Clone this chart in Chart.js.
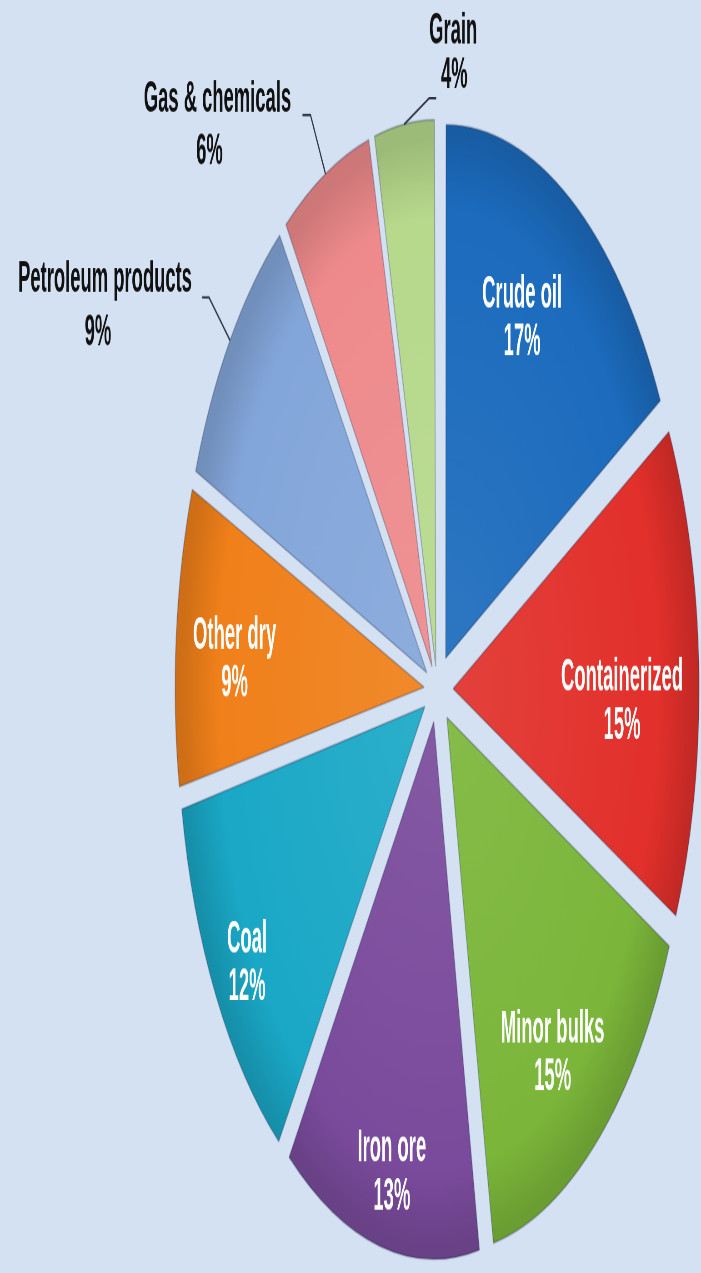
<!DOCTYPE html>
<html>
<head>
<meta charset="utf-8">
<script src="https://cdn.jsdelivr.net/npm/chart.js@4.4.1/dist/chart.umd.min.js"></script>
<style>
  html { background: #d4e1f3; }
  body { margin: 0; padding: 0; width: 701px; height: 1273px; }
  #wrap { width: 701px; height: 585px; transform-origin: 0 0; }
</style>
</head>
<body>
<div id="wrap"><canvas id="cargo-chart" width="701" height="585"></canvas></div>
<script>
// seaborne trade by cargo type, share of tonnage
const categories = ['Crude oil', 'Containerized', 'Minor bulks', 'Iron ore', 'Coal', 'Other dry', 'Petroleum products', 'Gas & chemicals', 'Grain'];
const shares = [17, 15, 15, 13, 12, 9, 9, 6, 4];
const sliceColors = ['#1c6bbd', '#e2302b', '#7bb63a', '#7a4b9c', '#1aa8c6', '#f0801a', '#83a6da', '#ee8a8c', '#b6d98c'];

// the pie is drawn round, then the whole canvas is stretched vertically
const STRETCH = 1273 / 585;
const RADIUS = 243;
const OFFSET = 19;

document.getElementById('wrap').style.transform = 'scaleY(' + STRETCH + ')';

// inside labels: [angle nudge in degrees, distance from the pie centre]
const insidePos = [[-4.3, 192], [3.1, 185], [2.9, 202], [-1, 225], [-0.8, 227], [-1.1, 203]];

// leader lines and text for the thin slices (screen px, relative to where the line leaves the slice)
const outsideLabels = {
    6: { elbow: [-21, -43], end: [-28, -43], name: [-125, -61], pct: [-132, -7] },
    7: { elbow: [-15, -59], end: [-23, -59], name: [-108, -74], pct: [-116, -22] },
    8: { elbow: [25, -26], end: [32, -26], name: [49, -93], pct: [50, -48] }
};

const total = shares.reduce((a, b) => a + b, 0);

// ArcElement moves a slice by offset/4 * (2 - sin(angle)); undo that so every slice moves OFFSET px
const arcOffset = (i) => {
    const circ = shares[i] / total * Math.PI * 2;
    const fix = 1 - Math.sin(Math.min(Math.PI, circ));
    return 4 * OFFSET / (1 + fix);
};

const mix = (hex, amt) => {
    const n = parseInt(hex.slice(1), 16);
    let r = n >> 16, g = (n >> 8) & 255, b = n & 255;
    const t = amt > 0 ? 255 : 0, a = Math.abs(amt);
    r = Math.round(r + (t - r) * a);
    g = Math.round(g + (t - g) * a);
    b = Math.round(b + (t - b) * a);
    return 'rgb(' + r + ',' + g + ',' + b + ')';
};

const drawText = (ctx, text, x, y, color, size, squeeze) => {
    ctx.save();
    ctx.translate(x, y);
    ctx.scale(squeeze, 1);
    ctx.font = 'bold ' + size + 'px "Liberation Sans", Arial, sans-serif';
    ctx.fillStyle = color;
    ctx.textAlign = 'center';
    ctx.textBaseline = 'middle';
    ctx.fillText(text, 0, 0);
    ctx.restore();
};

const sliceLabels = {
    id: 'sliceLabels',
    afterDatasetsDraw(chart) {
        const ctx = chart.ctx;
        const arcs = chart.getDatasetMeta(0).data;
        arcs.forEach((arc, i) => {
            const { x, y, startAngle, endAngle, outerRadius } = arc.getProps(['x', 'y', 'startAngle', 'endAngle', 'outerRadius'], true);
            const mid = (startAngle + endAngle) / 2;
            const pct = shares[i] + '%';
            const out = outsideLabels[i];
            if (!out) {
                const [nudge, d] = insidePos[i];
                const a = mid + nudge * Math.PI / 180;
                const lx = x + Math.cos(a) * d;
                const ly = y + Math.sin(a) * d + 1.5;
                drawText(ctx, categories[i], lx, ly - 11, '#ffffff', 21, 0.88);
                drawText(ctx, pct, lx, ly + 11, '#ffffff', 21, 0.88);
                return;
            }
            const sx = x + Math.cos(mid) * (outerRadius + OFFSET);
            const sy = y + Math.sin(mid) * (outerRadius + OFFSET);
            ctx.save();
            ctx.strokeStyle = '#2e3440';
            ctx.lineWidth = 1.1;
            ctx.beginPath();
            ctx.moveTo(sx, sy);
            ctx.lineTo(sx + out.elbow[0], sy + out.elbow[1] / STRETCH);
            ctx.lineTo(sx + out.end[0], sy + out.end[1] / STRETCH);
            ctx.stroke();
            ctx.restore();
            drawText(ctx, categories[i], sx + out.name[0], sy + out.name[1] / STRETCH, '#111111', 20, 0.92);
            drawText(ctx, pct, sx + out.pct[0], sy + out.pct[1] / STRETCH, '#111111', 20, 0.92);
        });
    }
};

const ctx = document.getElementById('cargo-chart').getContext('2d');

new Chart(ctx, {
    type: 'pie',
    data: {
        labels: categories,
        datasets: [{
            data: shares,
            backgroundColor: (c) => {
                const base = sliceColors[c.dataIndex];
                const area = c.chart.chartArea;
                if (!area) return base;
                const cx = (area.left + area.right) / 2;
                const cy = (area.top + area.bottom) / 2;
                const g = c.chart.ctx.createRadialGradient(cx, cy, 0, cx, cy, RADIUS);
                g.addColorStop(0, mix(base, 0.08));
                g.addColorStop(0.85, base);
                g.addColorStop(1, mix(base, -0.14));
                return g;
            },
            borderColor: 'rgba(40, 50, 80, 0.3)',
            borderWidth: 1,
            offset: (c) => arcOffset(c.dataIndex),
            hoverOffset: 0
        }]
    },
    options: {
        responsive: false,
        devicePixelRatio: 2.2,
        animation: false,
        radius: RADIUS,
        rotation: 0,
        layout: { padding: { left: 173, top: 49, right: 0, bottom: 0 } },
        plugins: {
            legend: { display: false },
            tooltip: { enabled: false }
        }
    },
    plugins: [sliceLabels]
});
</script>
</body>
</html>
